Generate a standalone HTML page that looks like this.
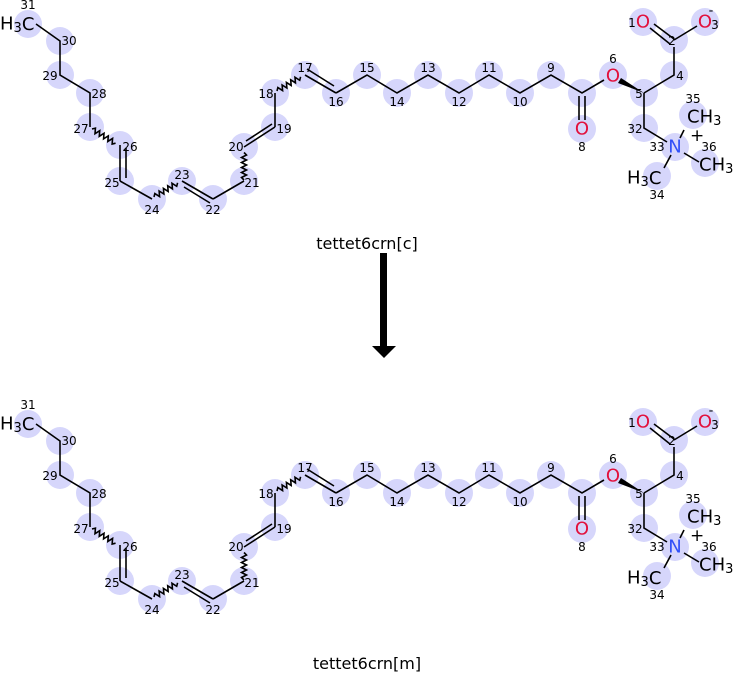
<!DOCTYPE html>
<html><head><meta charset="utf-8"><style>
html,body{margin:0;padding:0;background:#fff;}
svg{display:block;font-family:"DejaVu Sans","Liberation Sans",sans-serif;}
.c{fill:#d6d6fb;}
.b{stroke:#000;stroke-width:1.6;fill:none;}
.n{font-size:12px;text-anchor:middle;dominant-baseline:central;}
.O{font-size:18px;fill:#e2103c;text-anchor:middle;dominant-baseline:central;}
.N{font-size:18px;fill:#3050f8;text-anchor:middle;dominant-baseline:central;}
.L{font-size:18px;dominant-baseline:central;}
.s{font-size:13px;}
.t{font-size:16px;text-anchor:middle;}
</style></head><body>
<svg width="735" height="673" viewBox="0 0 735 673">
<g>
<g class="c">
<circle cx="28" cy="24" r="14"/><circle cx="60" cy="41" r="14"/><circle cx="60" cy="75" r="14"/><circle cx="90" cy="93" r="14"/><circle cx="90" cy="127" r="14"/><circle cx="120" cy="145" r="14"/><circle cx="120" cy="181" r="14"/><circle cx="152" cy="199" r="14"/><circle cx="182" cy="181" r="14"/><circle cx="213" cy="199" r="14"/><circle cx="244" cy="181" r="14"/><circle cx="244" cy="147" r="14"/><circle cx="275" cy="127" r="14"/><circle cx="275" cy="93" r="14"/><circle cx="305" cy="75" r="14"/><circle cx="336" cy="93" r="14"/><circle cx="367" cy="75" r="14"/><circle cx="397" cy="93" r="14"/><circle cx="428" cy="75" r="14"/><circle cx="459" cy="93" r="14"/><circle cx="489" cy="75" r="14"/><circle cx="520" cy="93" r="14"/><circle cx="551" cy="75" r="14"/><circle cx="582" cy="93" r="14"/><circle cx="582" cy="129" r="14"/><circle cx="613" cy="75" r="14"/><circle cx="644" cy="93" r="14"/><circle cx="674" cy="75" r="14"/><circle cx="674" cy="40" r="14"/><circle cx="643" cy="22" r="14"/><circle cx="705" cy="22" r="14"/><circle cx="644" cy="128" r="14"/><circle cx="675" cy="147" r="14"/><circle cx="693" cy="115" r="14"/><circle cx="705" cy="163" r="14"/><circle cx="657" cy="176" r="14"/>
</g>
<g class="b">
<path d="M36 24 L60 41 L60 75 L90 93 L90 127"/>
<path d="M120 145 L120 181 M126 148 L126 178"/>
<path d="M120 181 L152 199"/>
<path d="M182 181 L213 199 M184 187 L210 203"/>
<path d="M213 199 L244 181"/>
<path d="M244 147 L275 127 M246 141 L272 124"/>
<path d="M275 127 L275 93"/>
<path d="M305 75 L336 93 M307 69 L334 86"/>
<path d="M336 93 L367 75 L397 93 L428 75 L459 93 L489 75 L520 93 L551 75 L582 93 L604 80"/>
<path d="M579 96 L579 120 M585 96 L585 120"/>
<path d="M644 93 L674 75 L674 47"/>
<path d="M670 44 L650 28 M674 39 L654 24"/>
<path d="M674 40 L697 26"/>
<path d="M644 93 L644 128 L667 142"/>
<path d="M684 153 L699 162"/>
<path d="M671 155 L664 168"/>
<path d="M680 138 L684 130"/>
<path d="M0 0 l2.5 -2.5 l2.5 5 l2.5 -5 l2.5 5 l2.5 -5 l2.5 5 l2.5 -5 l2.5 5 l2.5 -5 l2.5 5 l2.5 -2.5" transform="translate(277,91) rotate(-31)"/>
<path d="M0 0 l2.5 -2.5 l2.5 5 l2.5 -5 l2.5 5 l2.5 -5 l2.5 5 l2.5 -5 l2.5 5 l2.5 -5 l2.5 5 l2.5 -2.5" transform="translate(92,129) rotate(31)"/>
<path d="M0 0 l2.5 -2.5 l2.5 5 l2.5 -5 l2.5 5 l2.5 -5 l2.5 5 l2.5 -5 l2.5 5 l2.5 -5 l2.5 5 l2.5 -2.5" transform="translate(154,197) rotate(-31)"/>
<path d="M0 0 l2.5 -2.5 l2.5 5 l2.5 -5 l2.5 5 l2.5 -5 l2.5 5 l2.5 -5 l2.5 5 l2.5 -5 l2.5 5 l2.5 -2.5" transform="translate(244,180) rotate(-90)"/>
</g>
<path d="M644 93 L621 78 L618 83 Z" fill="#000"/>
<text x="0" y="24" class="L">H<tspan class="s" dy="4">3</tspan><tspan dy="-4">C</tspan></text>
<text x="28" y="5" class="n">31</text>
<g class="n">
<text x="69" y="41">30</text><text x="50" y="76">29</text><text x="99" y="94">28</text><text x="81" y="129">27</text><text x="130" y="147">26</text><text x="112" y="183">25</text><text x="152" y="210">24</text><text x="182" y="175">23</text><text x="213" y="210">22</text><text x="252" y="183">21</text><text x="236" y="147">20</text><text x="284" y="129">19</text><text x="266" y="94">18</text><text x="305" y="68">17</text><text x="336" y="102">16</text><text x="367" y="68">15</text><text x="397" y="102">14</text><text x="428" y="68">13</text><text x="459" y="102">12</text><text x="489" y="68">11</text><text x="520" y="102">10</text><text x="551" y="68">9</text><text x="582" y="147">8</text><text x="613" y="59">6</text><text x="639" y="94">5</text><text x="680" y="76">4</text><text x="672" y="41">2</text><text x="632" y="23">1</text><text x="715" y="25">3</text><text x="635" y="129">32</text><text x="657" y="147">33</text><text x="693" y="99">35</text><text x="709" y="147">36</text><text x="657" y="195">34</text>
</g>
<text x="643" y="22" class="O">O</text><text x="705" y="22" class="O">O</text><text x="711" y="11" class="n" style="font-size:13px">-</text>
<text x="613" y="76" class="O">O</text><text x="582" y="129" class="O">O</text>
<text x="675" y="147" class="N">N</text><text x="690" y="136" class="L" style="font-size:17px">+</text>
<text x="687" y="117" class="L">CH<tspan class="s" dy="4">3</tspan></text>
<text x="699" y="165" class="L">CH<tspan class="s" dy="4">3</tspan></text>
<text x="627" y="178" class="L">H<tspan class="s" dy="4">3</tspan><tspan dy="-4">C</tspan></text>
</g>
<text x="367" y="249" class="t">tettet6crn[c]</text>
<rect x="380" y="253" width="7" height="93" fill="#000"/>
<path d="M372 346 L396 346 L384 358 Z" fill="#000"/>
<g transform="translate(0,400)">
<g class="c">
<circle cx="28" cy="24" r="14"/><circle cx="60" cy="41" r="14"/><circle cx="60" cy="75" r="14"/><circle cx="90" cy="93" r="14"/><circle cx="90" cy="127" r="14"/><circle cx="120" cy="145" r="14"/><circle cx="120" cy="181" r="14"/><circle cx="152" cy="199" r="14"/><circle cx="182" cy="181" r="14"/><circle cx="213" cy="199" r="14"/><circle cx="244" cy="181" r="14"/><circle cx="244" cy="147" r="14"/><circle cx="275" cy="127" r="14"/><circle cx="275" cy="93" r="14"/><circle cx="305" cy="75" r="14"/><circle cx="336" cy="93" r="14"/><circle cx="367" cy="75" r="14"/><circle cx="397" cy="93" r="14"/><circle cx="428" cy="75" r="14"/><circle cx="459" cy="93" r="14"/><circle cx="489" cy="75" r="14"/><circle cx="520" cy="93" r="14"/><circle cx="551" cy="75" r="14"/><circle cx="582" cy="93" r="14"/><circle cx="582" cy="129" r="14"/><circle cx="613" cy="75" r="14"/><circle cx="644" cy="93" r="14"/><circle cx="674" cy="75" r="14"/><circle cx="674" cy="40" r="14"/><circle cx="643" cy="22" r="14"/><circle cx="705" cy="22" r="14"/><circle cx="644" cy="128" r="14"/><circle cx="675" cy="147" r="14"/><circle cx="693" cy="115" r="14"/><circle cx="705" cy="163" r="14"/><circle cx="657" cy="176" r="14"/>
</g>
<g class="b">
<path d="M36 24 L60 41 L60 75 L90 93 L90 127"/>
<path d="M120 145 L120 181 M126 148 L126 178"/>
<path d="M120 181 L152 199"/>
<path d="M182 181 L213 199 M184 187 L210 203"/>
<path d="M213 199 L244 181"/>
<path d="M244 147 L275 127 M246 141 L272 124"/>
<path d="M275 127 L275 93"/>
<path d="M305 75 L336 93 M307 69 L334 86"/>
<path d="M336 93 L367 75 L397 93 L428 75 L459 93 L489 75 L520 93 L551 75 L582 93 L604 80"/>
<path d="M579 96 L579 120 M585 96 L585 120"/>
<path d="M644 93 L674 75 L674 47"/>
<path d="M670 44 L650 28 M674 39 L654 24"/>
<path d="M674 40 L697 26"/>
<path d="M644 93 L644 128 L667 142"/>
<path d="M684 153 L699 162"/>
<path d="M671 155 L664 168"/>
<path d="M680 138 L684 130"/>
<path d="M0 0 l2.5 -2.5 l2.5 5 l2.5 -5 l2.5 5 l2.5 -5 l2.5 5 l2.5 -5 l2.5 5 l2.5 -5 l2.5 5 l2.5 -2.5" transform="translate(277,91) rotate(-31)"/>
<path d="M0 0 l2.5 -2.5 l2.5 5 l2.5 -5 l2.5 5 l2.5 -5 l2.5 5 l2.5 -5 l2.5 5 l2.5 -5 l2.5 5 l2.5 -2.5" transform="translate(92,129) rotate(31)"/>
<path d="M0 0 l2.5 -2.5 l2.5 5 l2.5 -5 l2.5 5 l2.5 -5 l2.5 5 l2.5 -5 l2.5 5 l2.5 -5 l2.5 5 l2.5 -2.5" transform="translate(154,197) rotate(-31)"/>
<path d="M0 0 l2.5 -2.5 l2.5 5 l2.5 -5 l2.5 5 l2.5 -5 l2.5 5 l2.5 -5 l2.5 5 l2.5 -5 l2.5 5 l2.5 -2.5" transform="translate(244,180) rotate(-90)"/>
</g>
<path d="M644 93 L621 78 L618 83 Z" fill="#000"/>
<text x="0" y="24" class="L">H<tspan class="s" dy="4">3</tspan><tspan dy="-4">C</tspan></text>
<text x="28" y="5" class="n">31</text>
<g class="n">
<text x="69" y="41">30</text><text x="50" y="76">29</text><text x="99" y="94">28</text><text x="81" y="129">27</text><text x="130" y="147">26</text><text x="112" y="183">25</text><text x="152" y="210">24</text><text x="182" y="175">23</text><text x="213" y="210">22</text><text x="252" y="183">21</text><text x="236" y="147">20</text><text x="284" y="129">19</text><text x="266" y="94">18</text><text x="305" y="68">17</text><text x="336" y="102">16</text><text x="367" y="68">15</text><text x="397" y="102">14</text><text x="428" y="68">13</text><text x="459" y="102">12</text><text x="489" y="68">11</text><text x="520" y="102">10</text><text x="551" y="68">9</text><text x="582" y="147">8</text><text x="613" y="59">6</text><text x="639" y="94">5</text><text x="680" y="76">4</text><text x="672" y="41">2</text><text x="632" y="23">1</text><text x="715" y="25">3</text><text x="635" y="129">32</text><text x="657" y="147">33</text><text x="693" y="99">35</text><text x="709" y="147">36</text><text x="657" y="195">34</text>
</g>
<text x="643" y="22" class="O">O</text><text x="705" y="22" class="O">O</text><text x="711" y="11" class="n" style="font-size:13px">-</text>
<text x="613" y="76" class="O">O</text><text x="582" y="129" class="O">O</text>
<text x="675" y="147" class="N">N</text><text x="690" y="136" class="L" style="font-size:17px">+</text>
<text x="687" y="117" class="L">CH<tspan class="s" dy="4">3</tspan></text>
<text x="699" y="165" class="L">CH<tspan class="s" dy="4">3</tspan></text>
<text x="627" y="178" class="L">H<tspan class="s" dy="4">3</tspan><tspan dy="-4">C</tspan></text>
</g>
<text x="367" y="669" class="t">tettet6crn[m]</text>
</svg>
</body></html>
